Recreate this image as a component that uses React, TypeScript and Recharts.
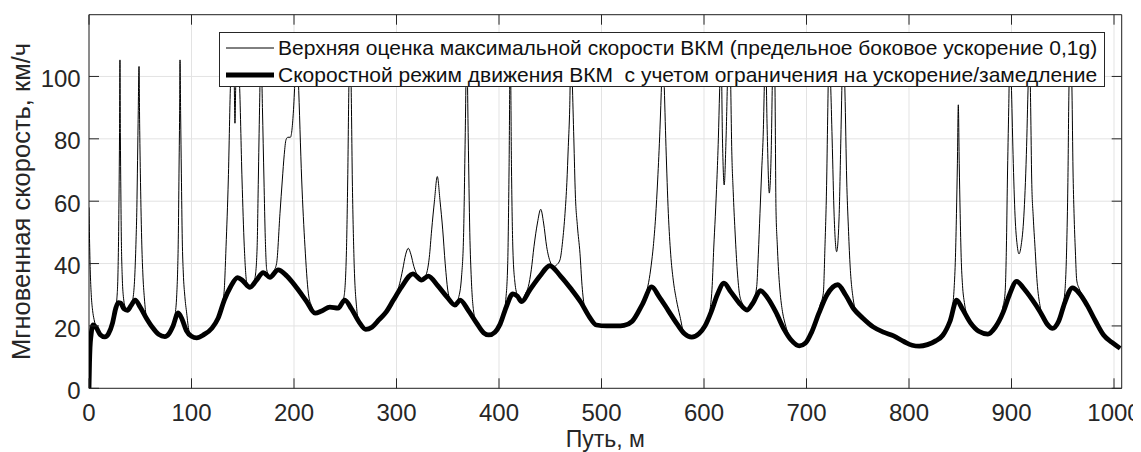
import React from 'react';
import { LineChart, Line, XAxis, YAxis, CartesianGrid, Legend, ReferenceArea, Label } from 'recharts';

const FONT = '"Liberation Sans", Arial, Helvetica, sans-serif';
const AXIS = '#262626';

// svg size and plot box (px inside the svg)
const W = 1133;
const H = 444;
const PLOT_L = 81;
const PLOT_T = 6.7;
const PLOT_W = 1032.7;
const PLOT_H = 373.6;
const PLOT_R = PLOT_L + PLOT_W;
const PLOT_B = PLOT_T + PLOT_H;

const X_MAX = 1007.5;
const Y_MAX = 119.8;
const xTicks = [0, 100, 200, 300, 400, 500, 600, 700, 800, 900, 1000];
const yTicks = [0, 20, 40, 60, 80, 100];

const limitName = 'Верхняя оценка максимальной скорости ВКМ (предельное боковое ускорение 0,1g)';
const modeName = 'Скоростной режим движения ВКМ  с учетом ограничения на ускорение/замедление';

// [путь, м ; скорость, км/ч] — скоростной режим (жирная линия)
const speedMode: [number, number][] = [
  [0, 0], [0.5, 8], [1, 13], [2, 17], [4, 20.3], [7, 19.5], [11, 17.2], [15.5, 16.5], [19, 17.5],
  [23, 21], [26, 25.5], [28.5, 27.5], [31, 27.3], [34, 25.5], [37.5, 25], [41, 26.5], [45, 28.3],
  [50, 26], [56, 22.5], [62, 19.5], [68, 17.3], [74, 16.6], [78, 17.5], [82, 20], [87, 24.2],
  [91, 22], [95, 18.5], [100, 16.7], [105, 16.2], [112, 17.2], [120, 19.3], [126, 22.5], [132, 28.3],
  [138, 32.5], [145, 35.5], [150, 34.5], [157, 32.4], [163, 34.5], [170, 37.1], [176.5, 35.6],
  [184.5, 38], [193, 36], [202, 32.5], [212, 28], [220.5, 24.1], [227, 24.8], [235, 26], [243, 25.7],
  [249.5, 28.3], [256, 25.5], [263, 21.5], [270, 18.9], [276, 19.6], [283, 22], [290, 24.5],
  [297, 28.3], [305, 32.5], [316, 36.7], [324.5, 34.7], [331, 36], [340, 33], [350, 29], [357, 26.7],
  [362, 28.3], [370, 25], [378, 21], [385, 17.8], [390, 17.1], [396, 18], [401, 20.5], [407, 26],
  [413.5, 30.3], [418, 29.5], [422, 27.8], [430, 31.5], [440, 36], [449.5, 39.3], [460, 36],
  [470, 32], [480, 27.5], [488, 23], [495, 20.3], [505, 20], [515, 20], [522, 20.2], [530, 21.5],
  [540, 27], [549, 32.5], [556, 29.5], [565, 25], [574, 20.5], [581, 17.5], [588, 16.4], [595, 17.5],
  [601, 20], [607, 24.5], [613, 30], [619.5, 33.7], [626, 31], [634, 27.5], [642, 25.1], [648, 27.5],
  [655, 31.3], [662, 29], [670, 24.5], [678, 19], [685, 15.5], [693, 13.6], [699, 14.5], [705, 18],
  [712, 24], [720, 30], [730.5, 33.2], [738, 30], [746, 25.5], [755, 22.5], [765, 19.7], [775, 18],
  [785, 16.8], [795, 15], [803, 13.8], [810, 13.5], [818, 14], [826, 15.2], [833, 17], [840, 21.5],
  [846.5, 28.3], [852, 25.5], [860, 21], [868, 18.3], [877, 17.4], [884, 19.5], [892, 24.5],
  [898, 30], [905, 34.3], [912, 32], [920, 28.5], [928, 24.5], [935, 20.5], [940, 19.2], [946, 21.5],
  [952, 27.5], [959.5, 32.2], [966, 30.5], [974, 26.5], [982, 21.5], [990, 17], [998, 14.7],
  [1006, 12.8],
];

// [путь, м ; скорость, км/ч] — верхняя оценка (тонкая линия); вершины под легендой ~110
const speedLimit: [number, number][] = [
  [0, 58], [0.5, 48], [1.2, 38], [2.2, 30], [3.5, 25], [5, 22], [7, 19.6], [11, 17.2], [15.5, 16.5],
  [19, 17.5], [23, 21], [25.5, 24.8],
  [27, 28], [28.2, 36], [28.8, 47], [29.3, 62], [29.8, 82], [30.2, 105.3], [30.6, 82], [31.1, 62],
  [31.6, 47], [32.4, 36], [33.5, 29.5], [35.5, 26], [37.5, 25.2], [39.5, 26],
  [41.5, 27.2], [43.2, 29.5], [44.8, 37], [45.9, 47.6], [46.7, 58], [47.2, 69], [47.9, 85],
  [48.8, 103.2], [49.4, 85], [50.1, 69], [50.7, 58], [51.4, 47.6], [52.5, 37], [54, 29], [56, 23],
  [62, 19.5], [68, 17.3], [74, 16.6], [78, 17.5], [82, 20.5],
  [84, 23.5], [85.6, 30], [86.5, 38], [87.1, 47.6], [87.8, 69], [88.4, 88], [88.8, 105.3],
  [89.4, 88], [90.1, 69], [91, 47.6], [92, 37], [93.5, 29.5], [95.3, 24.1], [97.5, 18.5],
  [100, 16.8], [105, 16.2], [112, 17.2], [120, 19.3], [126, 22.5], [129.5, 26.8],
  [131.7, 30.5], [133.7, 45.4], [135.9, 66.8], [138.2, 99], [139.5, 105], [140.8, 110], [141.7, 98],
  [142.4, 85], [143.2, 98], [144.5, 110], [145.6, 105], [146.7, 99], [149.3, 66.8], [151.5, 45.4],
  [153.9, 34], [157, 32.4], [160, 33.5],
  [162, 35.5], [164, 45], [165.2, 66.8], [166.4, 90], [167.8, 110], [169.2, 90], [170.7, 66.8],
  [172, 48], [173.4, 38], [176.5, 35.6], [180, 37.5], [183, 40], [186.3, 56], [188.6, 66.8],
  [190.5, 75], [192.2, 79.7], [194, 80.5], [196.5, 80.5], [199.3, 88.2], [201, 99], [202.6, 110],
  [204.2, 99], [207.5, 66.8], [210.7, 45.4], [214, 30.5], [217, 26.5], [220.5, 24.1], [227, 24.8],
  [235, 26], [243, 25.7], [246.5, 27.3],
  [248.8, 29.4], [251, 42], [252.4, 66.8], [253.6, 98], [254.6, 110], [255.7, 98], [256.9, 66.8],
  [258.5, 42], [261.2, 25.5], [263, 21.5], [270, 18.9], [276, 19.6], [283, 22], [290, 24.5],
  [297, 28.3],
  [300, 30.5], [303, 33.5], [306, 38], [309, 43], [311.5, 44.9], [314, 43], [317, 39], [320, 36.5],
  [324.5, 34.7], [327, 35.5],
  [329.4, 36.9], [332, 42], [334.3, 50.8], [337, 60], [339.8, 67.9], [342.5, 60], [345.1, 50.8],
  [347.5, 40], [350.5, 30.5], [354, 27.5], [357, 26.7],
  [360.5, 29], [363.5, 36], [365.5, 50], [367, 80], [368.5, 110], [370, 80], [371.5, 50], [373, 35],
  [375.5, 24], [378, 21], [385, 17.8], [390, 17.1], [396, 18], [401, 20.5], [404, 23],
  [406.5, 28], [408.5, 40], [409.8, 70], [411, 110], [412.2, 70], [413.5, 45], [415.5, 34],
  [418, 29.8], [422, 27.8], [426, 30.5],
  [428.6, 32.6], [431.5, 38], [434.1, 45.4], [437.5, 53], [440.7, 57.4], [443.5, 53], [446.5, 45.4],
  [450, 40.5], [453, 39], [456, 39.5], [459.5, 41.2], [462, 47], [464.4, 56.1], [466.2, 66],
  [467.6, 77.5], [469, 90], [470.2, 110], [471.5, 98], [473, 80], [474.5, 62], [476.5, 52],
  [479, 43.3], [481, 33], [483.5, 26],
  [488, 23], [495, 20.3], [505, 20], [515, 20], [522, 20.2], [530, 21.5], [536, 24.5], [540, 27],
  [543, 30], [546, 34], [548.5, 39.5], [550.5, 45.4], [552.8, 55], [554.8, 66.8], [557, 82.9],
  [558.7, 99], [559.8, 110], [561, 99], [562.9, 77.5], [565.2, 56.1], [567.5, 43], [570, 34.7],
  [573, 28.5], [576.6, 23], [580, 18.3], [588, 16.4], [595, 17.5], [601, 20],
  [603, 21.5], [606, 25.5], [608, 33], [609.5, 45], [611, 55], [612.6, 67], [614, 80], [615.2, 95],
  [616.6, 110], [618, 80], [619.7, 65.2], [621.5, 80], [623.3, 103], [624.8, 110], [626, 98],
  [627, 77.5], [628.5, 63], [630.2, 50.8], [632.2, 39], [634.5, 30.5], [637, 27.5], [640, 25.4],
  [642, 25.1], [645, 26],
  [648, 27.8], [651.4, 32.6], [653, 43], [654.6, 56.1], [656.3, 70], [657.9, 82.9], [659, 99],
  [660, 110], [661.5, 85], [663.7, 62.6], [665.5, 75], [667, 103], [668.3, 110], [669.3, 95],
  [670.2, 58], [671.5, 46], [672.5, 39], [674.5, 30], [676.8, 24.1], [679, 20.9], [685, 15.5],
  [693, 13.6], [699, 14.5], [705, 18], [710, 22.3],
  [713, 26.5], [716.4, 30.5], [718, 45.4], [719.7, 66.8], [720.8, 90], [722, 110], [723.5, 98],
  [725, 80], [727, 55], [729.4, 43.8], [731.8, 55], [733.5, 80], [735, 103], [736, 110],
  [737.5, 95], [739.2, 66.8], [740.8, 52], [742.4, 40.1], [745.7, 28.3], [749, 24.3], [755, 22.5],
  [765, 19.7], [775, 18], [785, 16.8], [795, 15], [803, 13.8], [810, 13.5], [818, 14], [826, 15.2],
  [833, 17], [838, 20],
  [840.5, 22.5], [842.5, 26], [844, 32], [845.3, 42], [846.3, 56], [847.2, 72], [848.1, 90.9],
  [849, 72], [849.9, 56], [850.9, 42], [852.2, 33], [854, 27.5], [856, 24], [860, 21], [868, 18.3],
  [877, 17.4], [884, 19.5], [889, 22.5],
  [891.5, 26], [893.7, 30.5], [895, 45], [896, 66.8], [897.3, 90], [898.5, 110], [899.8, 98],
  [901.5, 75], [903.5, 55], [905.5, 46], [907.3, 43.1], [909.5, 46], [912, 55], [914.5, 75],
  [916.3, 98], [917.5, 110], [918.7, 90], [919.7, 66.8], [921.2, 55], [922.9, 45.4], [925, 34],
  [927.8, 26.5], [931, 23], [935, 20.5], [940, 19.2], [946, 21.5],
  [948, 24], [950.5, 27.5], [952.2, 31.5], [953.8, 45], [955, 66], [956, 95], [957.5, 110],
  [959, 95], [960, 70], [961, 56.1], [962.3, 44], [963.6, 34.7], [966, 32], [969, 30], [974, 26.8],
  [982, 21.5], [990, 17], [998, 14.7], [1006, 12.8],
];

const modeData = speedMode.map(([x, v]) => ({ x, v }));
const limitData = speedLimit.map(([x, v]) => ({ x, v }));

const legendWidths: Record<string, number> = { [limitName]: 1, [modeName]: 5 };

const renderXTick = (props: any) => {
  const { x, payload } = props;
  return (
    <g>
      <line x1={x} x2={x} y1={PLOT_B} y2={PLOT_B - 10} stroke={AXIS} />
      <line x1={x} x2={x} y1={PLOT_T} y2={PLOT_T + 10} stroke={AXIS} />
      <text x={x} y={PLOT_B + 32.4} textAnchor="middle" fontSize={24} fill={AXIS} fontFamily={FONT}>
        {payload.value}
      </text>
    </g>
  );
};

const renderYTick = (props: any) => {
  const { y, payload } = props;
  return (
    <g>
      <line x1={PLOT_L} x2={PLOT_L + 10} y1={y} y2={y} stroke={AXIS} />
      <line x1={PLOT_R} x2={PLOT_R - 10} y1={y} y2={y} stroke={AXIS} />
      <text x={PLOT_L - 8.3} y={y + 10.6} textAnchor="end" fontSize={24} fill={AXIS} fontFamily={FONT}>
        {payload.value}
      </text>
    </g>
  );
};

const renderLegend = (props: any) => {
  const items = props.payload || [];
  return (
    <div
      style={{
        width: 886,
        height: 55,
        boxSizing: 'border-box',
        background: '#fff',
        border: `1px solid ${AXIS}`,
        paddingTop: 1,
        fontFamily: FONT,
        fontSize: 21,
        color: '#111',
        whiteSpace: 'pre',
      }}
    >
      {items.map((entry: any) => (
        <div key={entry.value} style={{ height: 27, display: 'flex', alignItems: 'center' }}>
          <svg width={48} height={10} style={{ marginLeft: 6, flex: 'none' }}>
            <line x1={0} x2={48} y1={5} y2={5} stroke="#000" strokeWidth={legendWidths[entry.value] || 1} />
          </svg>
          <span style={{ marginLeft: 4 }}>{entry.value}</span>
        </div>
      ))}
    </div>
  );
};

export default function App() {
  return (
    <div style={{ width: W, height: H, background: '#fff' }}>
      <LineChart
        width={W}
        height={H}
        margin={{ top: PLOT_T, right: W - PLOT_R, left: 21, bottom: H - PLOT_B - 40 }}
      >
        <CartesianGrid stroke="#e3e3e3" strokeWidth={1} />
        <XAxis
          dataKey="x"
          type="number"
          domain={[0, X_MAX]}
          ticks={xTicks}
          allowDataOverflow
          height={40}
          axisLine={false}
          tickLine={false}
          tick={renderXTick}
        >
          <Label
            content={() => (
              <text x={PLOT_L + PLOT_W / 2} y={438.5} textAnchor="middle" fontSize={23} fill={AXIS} fontFamily={FONT}>
                Путь, м
              </text>
            )}
          />
        </XAxis>
        <YAxis
          type="number"
          domain={[0, Y_MAX]}
          ticks={yTicks}
          allowDataOverflow
          width={60}
          axisLine={false}
          tickLine={false}
          tick={renderYTick}
        >
          <Label
            content={() => (
              <text
                x={22}
                y={PLOT_T + PLOT_H / 2}
                transform={`rotate(-90, 22, ${PLOT_T + PLOT_H / 2})`}
                textAnchor="middle"
                fontSize={25.5}
                fill={AXIS}
                fontFamily={FONT}
              >
                Мгновенная скорость, км/ч
              </text>
            )}
          />
        </YAxis>
        <Line
          data={limitData}
          dataKey="v"
          name={limitName}
          type="monotone"
          stroke="#000"
          strokeWidth={1}
          dot={false}
          activeDot={false}
          isAnimationActive={false}
        />
        <Line
          data={modeData}
          dataKey="v"
          name={modeName}
          type="monotone"
          stroke="#000"
          strokeWidth={4.8}
          strokeLinejoin="round"
          dot={false}
          activeDot={false}
          isAnimationActive={false}
        />
        <ReferenceArea x1={0} x2={X_MAX} y1={0} y2={Y_MAX} fill="none" stroke={AXIS} strokeWidth={1} />
        <Legend
          layout="vertical"
          align="center"
          verticalAlign="middle"
          wrapperStyle={{ left: 211, top: 24, width: 886, height: 55 }}
          content={renderLegend}
        />
      </LineChart>
    </div>
  );
}
